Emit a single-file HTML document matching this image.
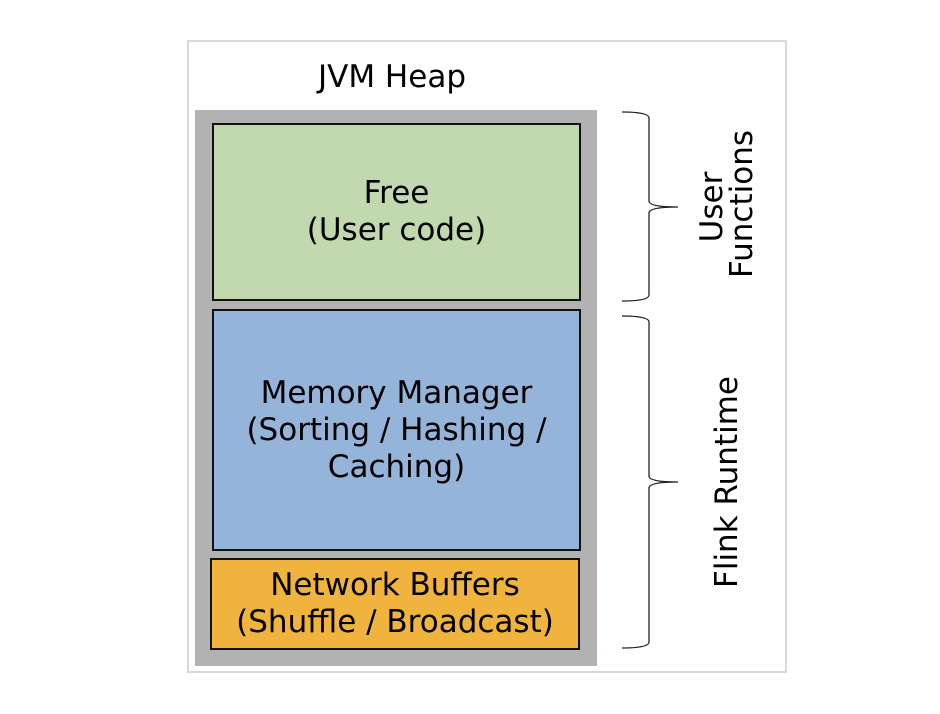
<!DOCTYPE html>
<html><head><meta charset="utf-8"><style>
html,body{margin:0;padding:0;background:#fff;}
body{width:940px;height:714px;position:relative;overflow:hidden;font-family:"DejaVu Sans","Liberation Sans",sans-serif;color:#000;}
.abs{position:absolute;box-sizing:border-box;}
.box{display:flex;align-items:center;justify-content:center;text-align:center;border:2px solid #111;font-size:31px;line-height:37px;}
.rot{position:absolute;transform:translate(-50%,-50%) rotate(-90deg);white-space:nowrap;font-size:31px;line-height:30px;text-align:center;}
</style></head><body>
<div class="abs" style="left:187px;top:40px;width:600px;height:633px;border:2px solid #d9d9d9;"></div>
<div class="abs" style="left:187px;top:59px;width:410px;text-align:center;font-size:31px;line-height:37px;">JVM Heap</div>
<div class="abs" style="left:195px;top:110px;width:402px;height:556px;background:#b2b2b2;"></div>
<div class="abs box" style="left:212px;top:123px;width:369px;height:178px;background:#c2d8ae;">Free<br>(User code)</div>
<div class="abs box" style="left:212px;top:309px;width:369px;height:242px;background:#95b4da;">Memory Manager<br>(Sorting / Hashing /<br>Caching)</div>
<div class="abs box" style="left:210px;top:558px;width:370px;height:92px;background:#f0b43e;">Network Buffers<br>(Shuffle / Broadcast)</div>
<svg class="abs" style="left:0;top:0" width="940" height="714">
<g fill="none" stroke="#222" stroke-width="1.3">
<path d="M622,112 Q649,112 649,118 L649,201 Q649,207 678,207 Q649,207 649,213 L649,295 Q649,301 622,301"/>
<path d="M622,316 Q649,316 649,322 L649,476 Q649,482 678,482 Q649,482 649,488 L649,642 Q649,648 622,648"/>
</g>
</svg>
<div class="rot" style="left:712px;top:207px;">User</div>
<div class="rot" style="left:742px;top:204px;">Functions</div>
<div class="rot" style="left:727px;top:482px;">Flink Runtime</div>
</body></html>
